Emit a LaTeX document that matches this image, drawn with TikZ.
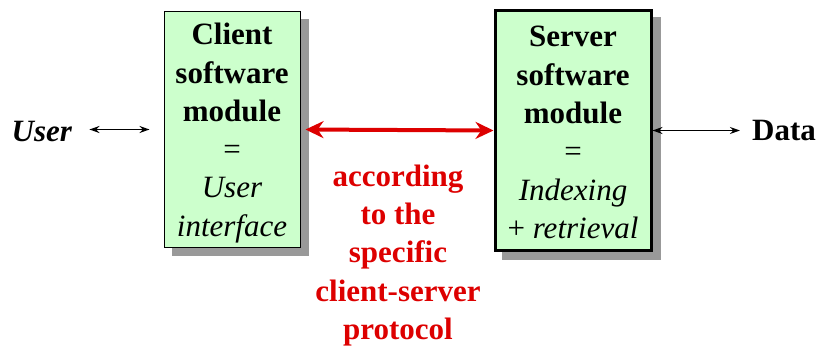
\documentclass[tikz,border=0pt]{standalone}
\usepackage{fontspec}
\setmainfont{Liberation Serif}
\usetikzlibrary{arrows.meta,backgrounds}

\definecolor{boxgreen}{HTML}{CCFFCC}
\definecolor{protored}{HTML}{DD0000}
\definecolor{shadowgray}{HTML}{999999}

\tikzset{
  module/.style={draw=black, fill=boxgreen, minimum width=136, minimum height=235, inner sep=0pt},
  bigtext/.style={font=\fontsize{31}{38.3}\selectfont, align=center, inner sep=0pt},
  thinarrow/.style={draw=black, line width=1.5pt, {Stealth[length=10pt,width=7pt]}-{Stealth[length=10pt,width=7pt]}},
  redarrow/.style={draw=protored, line width=4pt, {Stealth[length=18pt,width=17pt]}-{Stealth[length=18pt,width=17pt]}},
}

\begin{document}
\begin{tikzpicture}[x=1pt,y=-1pt]
\useasboundingbox (0,0) rectangle (818,347);

% the two software modules
\node[module, line width=1pt] (client) at (232,129.5) {};
\node[module, line width=3pt, minimum width=156, minimum height=239] (server) at (573,130.5) {};

% drop shadows behind the boxes
\begin{pgfonlayer}{background}
  \fill[shadowgray] ([shift={(8,8)}]client.south west) rectangle ([shift={(8,8)}]client.north east);
  \fill[shadowgray] ([shift={(8,8)}]server.south west) rectangle ([shift={(8,8)}]server.north east);
\end{pgfonlayer}

% box contents
\node[bigtext] (clienttext) at (232,133)
  {\textbf{Client}\\\textbf{software}\\\textbf{module}\\=\\\textit{User}\\\textit{interface}};
\node[bigtext] (servertext) at (573,132.5)
  {\textbf{Server}\\\textbf{software}\\\textbf{module}\\=\\\textit{Indexing}\\+ \textit{retrieval}};

% end points
\node[bigtext, anchor=base] (user) at (42,141.5) {\textbf{\textit{User}}};
\node[bigtext, anchor=base] (data) at (784,141) {\textbf{Data}};

% protocol label
\node[bigtext, text=protored] (protocol) at (398,255.5)
  {\textbf{according}\\\textbf{to the}\\\textbf{specific}\\\textbf{client-server}\\\textbf{protocol}};

% connectors
\draw[thinarrow, shorten <=17pt, shorten >=14pt] (user.east |- client.west) -- (client.west);
\draw[redarrow, shorten <=5pt] (client.east) -- (server.west);
\draw[thinarrow, shorten >=12pt] (server.east) -- (data.west |- server.east);
\end{tikzpicture}
\end{document}
